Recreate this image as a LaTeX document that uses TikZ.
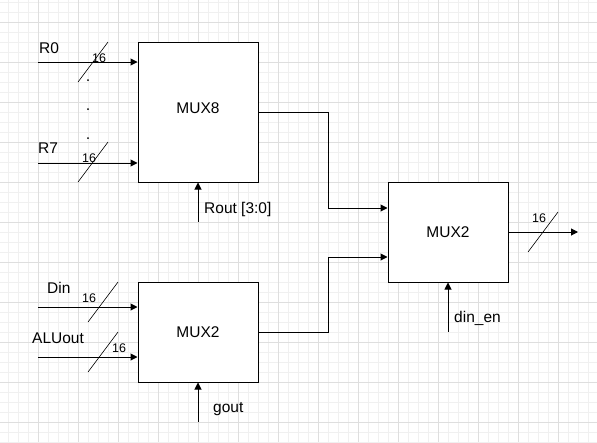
\documentclass[tikz,border=0pt]{standalone}
\usepackage{fontspec}
\setmainfont{Liberation Sans}
\usetikzlibrary{arrows.meta}
\definecolor{gminor}{RGB}{240,240,240}
\definecolor{gmajor}{RGB}{222,222,222}
\begin{document}
\begin{tikzpicture}[x=1pt,y=-1pt,
  blk/.style={draw,line width=1pt,minimum width=120pt,minimum height=#1,inner sep=0pt,fill=white},
  wire/.style={line width=1pt},
  arr/.style={wire,-{Triangle[length=7pt,width=7pt]}},
  bus/.style={line width=0.6pt},
  lbl/.style={font=\fontsize{15.5}{18}\selectfont,inner sep=0pt},
  num/.style={font=\fontsize{12.5}{14}\selectfont,inner sep=0pt},
  minorgrid/.style={draw=gminor,line width=0.8pt},
  majorgrid/.style={draw=gmajor,line width=0.8pt}]
\useasboundingbox (0,0) rectangle (597,442);
\fill[white] (0,0) rectangle (597,442);
% grid
\foreach \x in {8,18,...,597} \draw[minorgrid] (\x,0) -- (\x,442);
\foreach \y in {2,12,...,442} \draw[minorgrid] (0,\y) -- (597,\y);
\foreach \x in {38,78,...,597} \draw[majorgrid] (\x,0) -- (\x,442);
\foreach \y in {22,62,...,442} \draw[majorgrid] (0,\y) -- (597,\y);
% blocks
\node[blk=140pt] (m8) at (198,112) {};
\node[lbl] (m8t) at ([yshift=4pt]m8.center) {MUX8};
\node[blk=100pt] (ma) at (198,332) {};
\node[lbl] (mat) at (ma.center) {MUX2};
\node[blk=100pt] (mb) at (448,232) {};
\node[lbl] (mbt) at (mb.center) {MUX2};
% input coordinates
\coordinate (r0) at (38,62);
\coordinate (r7) at (38,163);
\coordinate (din) at (38,307);
\coordinate (alu) at (38,357);
\coordinate (rout) at (198,222);
\coordinate (gout) at (198,422);
\coordinate (den) at (448,332);
\coordinate (out) at (578,232);
% input wires
\draw[arr] (r0) -- (r0 -| m8.west);
\draw[arr] (r7) -- (r7 -| m8.west);
\draw[arr] (din) -- (din -| ma.west);
\draw[arr] (alu) -- (alu -| ma.west);
\draw[arr] (rout) -- (m8.south);
\draw[arr] (gout) -- (ma.south);
\draw[arr] (den) -- (mb.south);
% internal wires
\draw[arr] (m8.east) -- (328,112) -- (328,208) -- (mb.west |- 0,208);
\draw[arr] (ma.east) -- (328,332) -- (328,257) -- (mb.west |- 0,257);
\draw[arr] (mb.east) -- (out);
% bus slashes
\draw[bus] (78,82) -- (108,42);
\draw[bus] (78,182) -- (108,142);
\draw[bus] (88,322) -- (118,282);
\draw[bus] (88,372) -- (118,332);
\draw[bus] (528,252) -- (558,212);
% dots
\foreach \yy in {80,109,138} \fill (88,\yy) circle (1pt);
% labels
\node[lbl,anchor=base west] (lr0) at (39,53) {R0};
\node[lbl,anchor=base west] (lr7) at (38,153) {R7};
\node[lbl,anchor=base west] (ldin) at (47,293) {Din};
\node[lbl,anchor=base west] (lalu) at (32,343) {ALUout};
\node[lbl,anchor=base west] (lrout) at (204,213) {Rout [3:0]};
\node[lbl,anchor=base west] (lgout) at (213,412) {gout};
\node[lbl,anchor=base west] (lden) at (454,322) {din\_en};
\node[num,anchor=base west] (n1) at (92,62) {16};
\node[num,anchor=base west] (n2) at (82,162) {16};
\node[num,anchor=base west] (n3) at (82,302) {16};
\node[num,anchor=base west] (n4) at (112,352) {16};
\node[num,anchor=base west] (n5) at (532,222) {16};
\end{tikzpicture}
\end{document}
